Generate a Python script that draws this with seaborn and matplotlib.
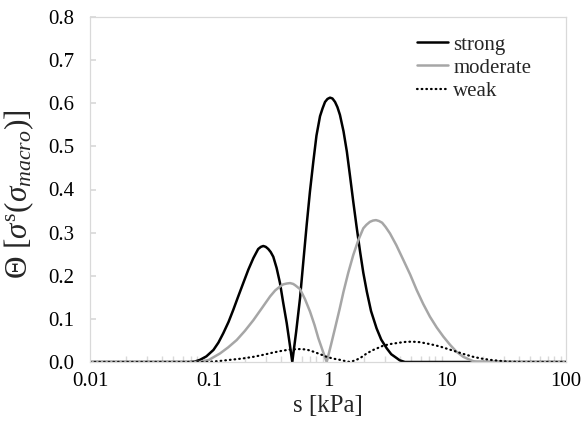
import matplotlib
matplotlib.use("Agg")
import matplotlib.pyplot as plt
import matplotlib.ticker as mticker
import numpy as np
import pandas as pd
import seaborn as sns

# ---- data ----
strong_s = [0.01, 0.069, 0.076, 0.084, 0.095, 0.109, 0.120, 0.132, 0.146, 0.160, 0.176, 0.194,
            0.214, 0.236, 0.259, 0.273, 0.286, 0.300, 0.315, 0.330, 0.347, 0.37, 0.395, 0.42,
            0.450, 0.475, 0.501, 0.54, 0.582, 0.62, 0.662, 0.705, 0.753, 0.80, 0.857, 0.90,
            0.944, 0.99, 1.04, 1.09, 1.146, 1.20, 1.26, 1.35, 1.44, 1.53, 1.63, 1.74, 1.86,
            1.98, 2.12, 2.30, 2.56, 2.80, 3.11, 3.4, 3.78, 4.0, 4.43, 100]
strong_v = [0, 0, 0.001, 0.005, 0.013, 0.028, 0.045, 0.067, 0.093, 0.121, 0.152, 0.183,
            0.214, 0.241, 0.262, 0.267, 0.269, 0.267, 0.262, 0.255, 0.244, 0.218, 0.183, 0.138,
            0.090, 0.045, 0.0, 0.070, 0.148, 0.232, 0.318, 0.395, 0.465, 0.525, 0.570, 0.588,
            0.603, 0.610, 0.613, 0.611, 0.603, 0.591, 0.573, 0.535, 0.488, 0.432, 0.372, 0.313,
            0.256, 0.207, 0.163, 0.118, 0.078, 0.052, 0.032, 0.018, 0.009, 0.004, 0, 0]

moderate_s = [0.01, 0.084, 0.10, 0.124, 0.145, 0.171, 0.20, 0.236, 0.28, 0.326, 0.36, 0.395,
              0.42, 0.45, 0.48, 0.51, 0.53, 0.582, 0.64, 0.706, 0.77, 0.830, 0.90, 0.975,
              1.06, 1.145, 1.25, 1.35, 1.48, 1.63, 1.80, 1.98, 2.1, 2.25, 2.39, 2.53, 2.68,
              2.85, 3.05, 3.32, 3.75, 4.29, 4.9, 5.56, 6.3, 7.19, 8.2, 9.31, 10.6, 12.0, 13.7,
              15.6, 16.6, 17.8, 100]
moderate_v = [0, 0, 0.005, 0.020, 0.034, 0.051, 0.072, 0.097, 0.126, 0.152, 0.166, 0.175,
              0.180, 0.182, 0.183, 0.181, 0.178, 0.169, 0.146, 0.117, 0.086, 0.055, 0.027, 0.0,
              0.040, 0.078, 0.122, 0.163, 0.207, 0.248, 0.283, 0.310, 0.318, 0.325, 0.328,
              0.329, 0.327, 0.323, 0.313, 0.298, 0.271, 0.237, 0.203, 0.167, 0.135, 0.105, 0.080,
              0.059, 0.040, 0.024, 0.012, 0.005, 0.002, 0, 0]

weak_s = [0.01, 0.095, 0.12, 0.150, 0.19, 0.236, 0.29, 0.347, 0.41, 0.48, 0.58, 0.66, 0.753,
          0.86, 0.975, 1.1, 1.26, 1.4, 1.53, 1.7, 1.86, 2.12, 2.40, 2.6, 2.92, 3.4, 4.03, 4.6,
          5.21, 5.9, 6.75, 7.6, 8.73, 10.2, 12.0, 14, 16.6, 19.5, 23, 27, 31.7, 41.6, 100]
weak_v = [0, 0, 0.002, 0.005, 0.008, 0.012, 0.017, 0.022, 0.026, 0.029, 0.030, 0.029, 0.024,
          0.018, 0.012, 0.008, 0.005, 0.002, 0, 0.004, 0.009, 0.020, 0.028, 0.032, 0.038, 0.042,
          0.045, 0.047, 0.047, 0.046, 0.043, 0.040, 0.036, 0.030, 0.024, 0.018, 0.012, 0.008,
          0.005, 0.003, 0.001, 0, 0]

series_names = ["strong", "moderate", "weak"]
x_ticks = [0.01, 0.1, 1, 10, 100]
x_tick_labels = ["0.01", "0.1", "1", "10", "100"]
y_ticks = [0.0, 0.1, 0.2, 0.3, 0.4, 0.5, 0.6, 0.7, 0.8]

# ---- style ----
sns.set_theme(style="white")
plt.rcParams["font.family"] = ["Liberation Serif", "DejaVu Serif"]
plt.rcParams["mathtext.fontset"] = "custom"
plt.rcParams["mathtext.rm"] = "Liberation Serif"
plt.rcParams["mathtext.it"] = "Liberation Serif:italic"
plt.rcParams["mathtext.bf"] = "Liberation Serif:bold"

fig = plt.figure(figsize=(5.84, 4.28), dpi=100)
ax = fig.add_axes([90 / 584, 1 - 362 / 428, 476 / 584, 345 / 428])

frames = {
    "strong": pd.DataFrame({"s": strong_s, "v": strong_v}),
    "moderate": pd.DataFrame({"s": moderate_s, "v": moderate_v}),
    "weak": pd.DataFrame({"s": weak_s, "v": weak_v}),
}
styles = {
    "strong": dict(color="#000000", linewidth=1.8, linestyle="-"),
    "moderate": dict(color="#a6a6a6", linewidth=1.8, linestyle="-"),
    "weak": dict(color="#000000", linewidth=1.6, linestyle=(0, (0.3, 1.8)),
                 dash_capstyle="round"),
}
for name in series_names:
    sns.lineplot(data=frames[name], x="s", y="v", ax=ax, label=name,
                 estimator=None, sort=False, **styles[name])

ax.set_xscale("log")
ax.set_xlim(0.01, 100)
ax.set_ylim(0, 0.8)
ax.set_xticks(x_ticks)
ax.xaxis.set_major_formatter(mticker.FixedFormatter(x_tick_labels))
ax.xaxis.set_minor_locator(mticker.LogLocator(base=10, subs=np.arange(2, 10)))
ax.xaxis.set_minor_formatter(mticker.NullFormatter())
ax.set_yticks(y_ticks)
ax.yaxis.set_major_formatter(mticker.FormatStrFormatter("%.1f"))

for sp in ax.spines.values():
    sp.set_color("#d9d9d9")
    sp.set_linewidth(0.9)

ax.tick_params(axis="x", which="major", direction="in", length=5, color="#d9d9d9",
               labelsize=15, pad=7, labelcolor="#000000")
ax.tick_params(axis="x", which="minor", direction="in", length=4, color="#d9d9d9", bottom=True)
ax.tick_params(axis="y", which="major", direction="in", length=4, color="#d9d9d9",
               labelsize=15, pad=11, labelcolor="#000000", left=True)

ax.set_xlabel("s [kPa]", fontsize=18, labelpad=3)
ax.set_ylabel(r"$\Theta\ [\sigma^{\mathrm{s}}(\sigma_{macro})]$", fontsize=22.5)
ax.yaxis.set_label_coords((36 - 90) / 476, 0.485)

leg = ax.legend(loc="upper left", frameon=False, fontsize=15, handlelength=1.5,
                handletextpad=0.25, labelspacing=0.17, borderaxespad=0.0, borderpad=0.0,
                bbox_to_anchor=((417 - 90) / 476, (362 - 35) / 345))

fig.savefig("out.png", dpi=100)
